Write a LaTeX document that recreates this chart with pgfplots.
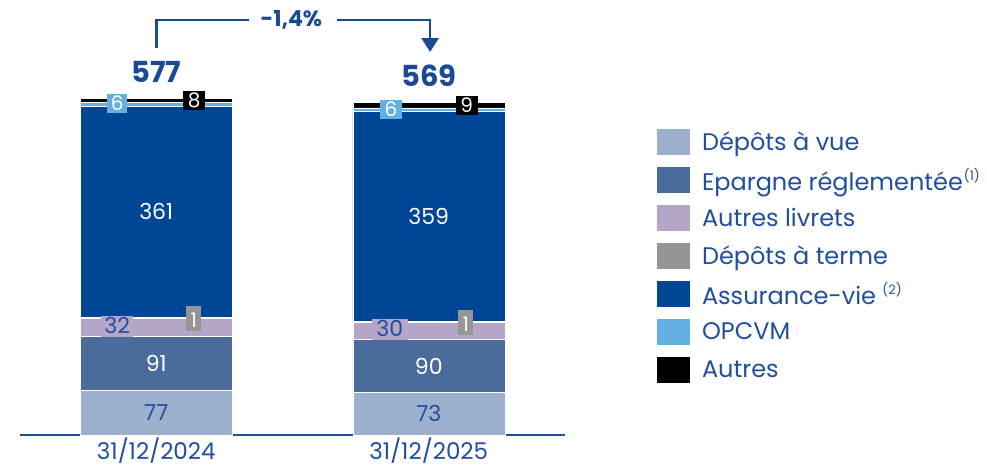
\documentclass[border=0pt]{standalone}
\usepackage{fontspec}
\setmainfont{Poppins}
\usepackage{pgfplots}
\usepackage{pgfplotstable}
\pgfplotsset{compat=1.18}
\usetikzlibrary{arrows.meta}
\definecolor{cvue}{HTML}{9DB1CF}
\definecolor{cepargne}{HTML}{4B6B9C}
\definecolor{clivrets}{HTML}{B5A5C7}
\definecolor{cterme}{HTML}{959595}
\definecolor{cassur}{HTML}{004696}
\definecolor{copcvm}{HTML}{63B0E2}
\definecolor{cautres}{HTML}{000000}
\definecolor{txtblue}{HTML}{1F4F9E}
\definecolor{arrblue}{HTML}{1A4A96}
\pgfplotstableread{
x vue epargne livrets terme assurance opcvm autres
0 77 91 32 1 361 6 8
1 73 90 30 1 359 6 9
}\datatable
\tikzset{lbl/.style={font=\fontsize{22}{24}\selectfont, anchor=center, inner sep=0pt},
         sbox/.style={font=\fontsize{20}{22}\selectfont, anchor=center, inner sep=1.5pt, text height=15pt, text depth=1pt}}
\begin{document}
\begin{tikzpicture}
\useasboundingbox (-20pt,-31pt) rectangle (967pt,435pt);
\begin{axis}[
  at={(0pt,0pt)}, anchor=south west,
  scale only axis, width=545pt, height=351pt,
  xmin=-0.5, xmax=1.5, ymin=0, ymax=600,
  ybar stacked, bar width=152pt,
  axis y line=none, axis x line=bottom,
  x axis line style={-, draw=txtblue, line width=1.5pt},
  xtick={0,1}, xticklabels={31/12/2024,31/12/2025},
  major tick length=0pt,
  xticklabel style={font=\fontsize{23}{25}\selectfont, text=txtblue, inner ysep=1pt, yshift=-1.5pt},
  clip=false,
  every axis plot/.append style={draw=white, line width=0.5pt},
  legend cell align=left,
  legend image code/.code={\path[#1,draw=none] (0pt,-13pt) rectangle (33pt,13pt);},
  legend style={at={(1.163,0.878)}, anchor=north west, draw=none, fill=none,
    font=\fontsize{24}{27}\selectfont, text=txtblue, row sep=12pt, column sep=6pt,
    nodes={inner ysep=0pt, inner xsep=6pt}},
]
\addplot[fill=cvue] table[x=x,y=vue]{\datatable};
\addlegendentry{Dépôts à vue}
\addplot[fill=cepargne] table[x=x,y=epargne]{\datatable};
\addlegendentry{Epargne réglementée\kern1pt{\fontsize{13}{14}\selectfont\raisebox{0.8em}{(1)}}}
\addplot[fill=clivrets] table[x=x,y=livrets]{\datatable};
\addlegendentry{Autres livrets}
\addplot[fill=cterme] table[x=x,y=terme]{\datatable};
\addlegendentry{Dépôts à terme}
\addplot[fill=cassur] table[x=x,y=assurance]{\datatable};
\addlegendentry{Assurance-vie {\fontsize{13}{14}\selectfont\raisebox{0.8em}{(2)}}}
\addplot[fill=copcvm] table[x=x,y=opcvm]{\datatable};
\addlegendentry{OPCVM}
\addplot[fill=cautres] table[x=x,y=autres]{\datatable};
\addlegendentry{Autres}

\coordinate (a1) at (axis cs:0,38.5);
\coordinate (a2) at (axis cs:0,122.5);
\coordinate (a3) at (axis cs:0,381.5);
\coordinate (b1) at (axis cs:1,36.5);
\coordinate (b2) at (axis cs:1,118);
\coordinate (b3) at (axis cs:1,373.5);
\coordinate (as1) at (axis cs:-0.143,186);
\coordinate (as2) at (axis cs:0.138,200);
\coordinate (as3) at (axis cs:-0.143,566);
\coordinate (as4) at (axis cs:0.139,571);
\coordinate (bs1) at (axis cs:0.857,179.5);
\coordinate (bs2) at (axis cs:1.136,193);
\coordinate (bs3) at (axis cs:0.861,557);
\coordinate (bs4) at (axis cs:1.139,563);
\coordinate (t1) at (axis cs:0,620.5);
\coordinate (t2) at (axis cs:1,613.7);
\coordinate (v1) at (axis cs:0,661.5);
\coordinate (v2) at (axis cs:0.339,709.4);
\coordinate (v3) at (axis cs:0.664,709.4);
\coordinate (v4) at (axis cs:1.005,654.7);
\coordinate (vt) at (axis cs:0.496,709.4);
\end{axis}
% main segment labels
\node[lbl, text=txtblue] at (a1) {77};
\node[lbl, text=white] at (a2) {91};
\node[lbl, text=white] at (a3) {361};
\node[lbl, text=txtblue] at (b1) {73};
\node[lbl, text=white] at (b2) {90};
\node[lbl, text=white] at (b3) {359};
% small boxed labels
\node[sbox, fill=clivrets, text=txtblue, minimum width=32pt, font=\fontsize{22}{24}\selectfont, text height=16pt, text depth=2pt] at (as1) {32};
\node[sbox, fill=cterme, text=white, minimum width=15pt, text height=20pt, text depth=2pt] at (as2) {1};
\node[sbox, fill=copcvm, text=white, minimum width=20pt] at (as3) {6};
\node[sbox, fill=cautres, text=white, minimum width=22pt] at (as4) {8};
\node[sbox, fill=clivrets, text=txtblue, minimum width=36pt, font=\fontsize{22}{24}\selectfont, text height=16pt, text depth=2pt] at (bs1) {30};
\node[sbox, fill=cterme, text=white, minimum width=15pt, text height=20pt, text depth=2pt] at (bs2) {1};
\node[sbox, fill=copcvm, text=white, minimum width=22pt] at (bs3) {6};
\node[sbox, fill=cautres, text=white, minimum width=22pt] at (bs4) {9};
% totals
\node[font=\fontsize{29}{32}\selectfont\bfseries, text=arrblue] at (t1) {577};
\node[font=\fontsize{29}{32}\selectfont\bfseries, text=arrblue] at (t2) {569};
% variation bracket
\draw[arrblue, line width=2.5pt] (v1) |- (v2);
\draw[arrblue, line width=2.5pt, -{Triangle[width=17pt,length=14pt]}] (v3) -| (v4);
\node[font=\fontsize{22}{24}\selectfont\bfseries, text=arrblue] at (vt) {-1,4\%};
\end{tikzpicture}
\end{document}
